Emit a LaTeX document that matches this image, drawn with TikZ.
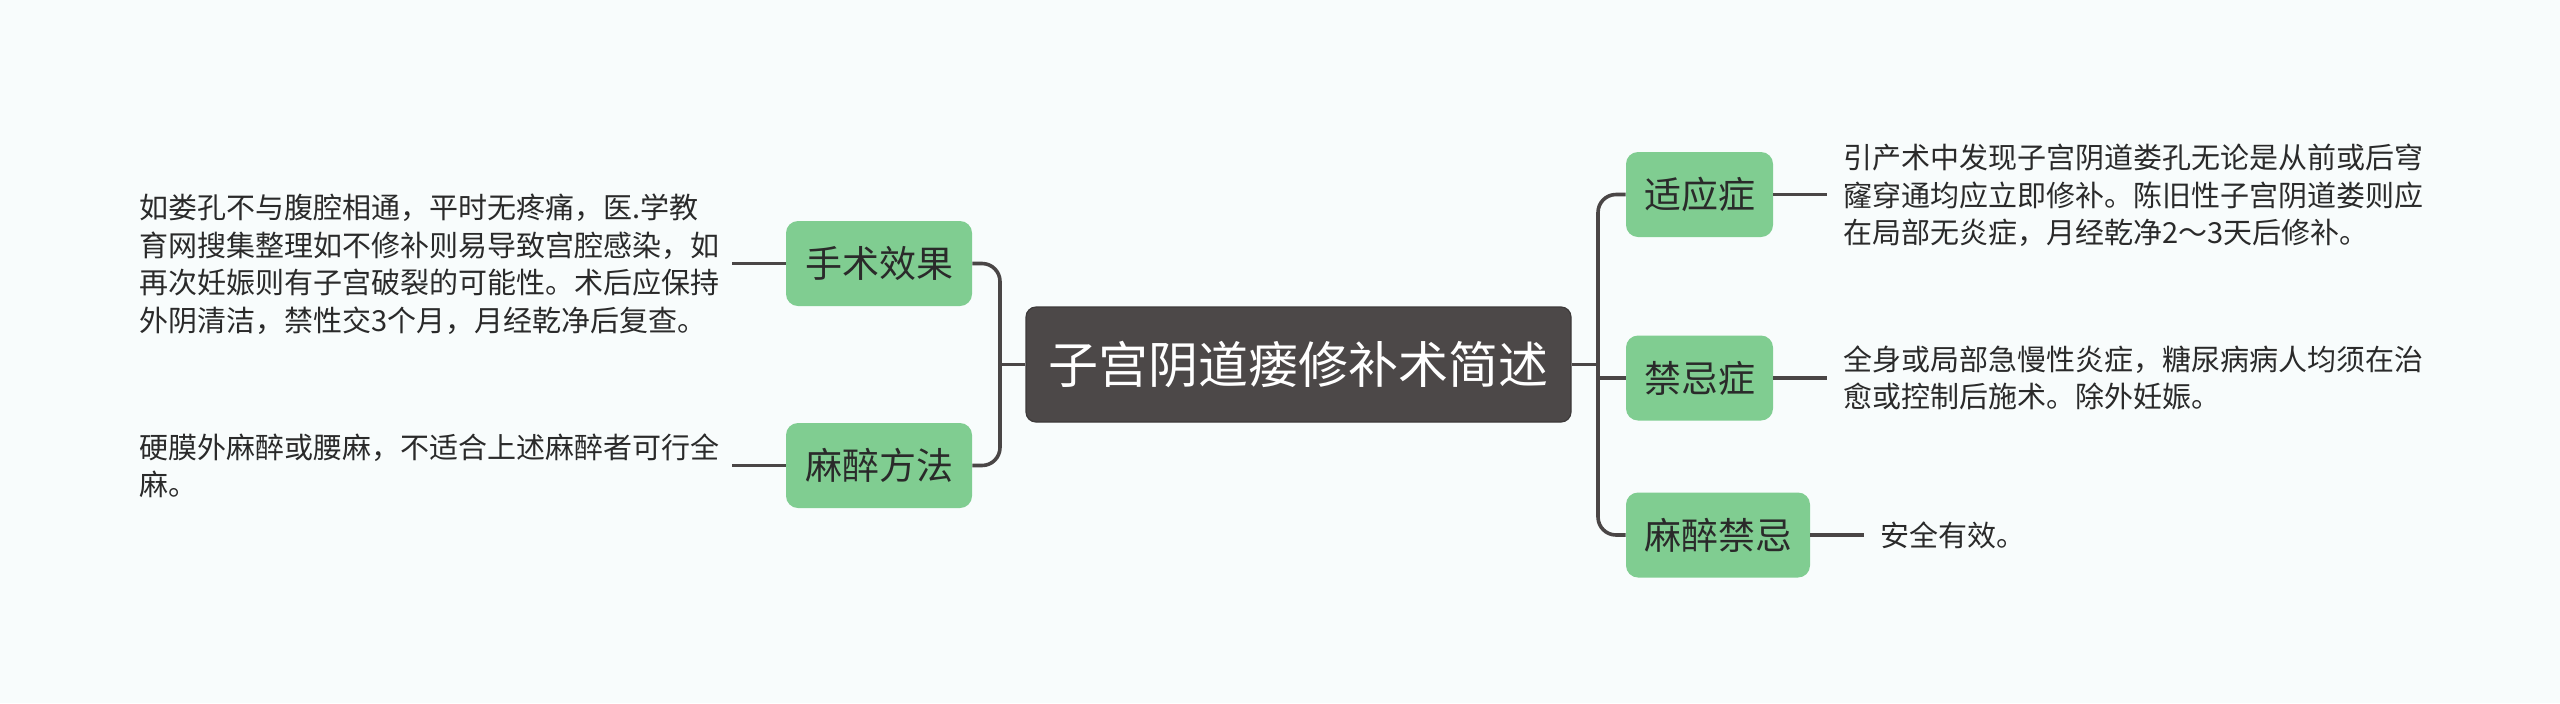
\documentclass[tikz,border=0pt]{standalone}
\usepackage{fontspec}
\newfontfamily\cjk{Noto Sans CJK SC}
\definecolor{bg}{HTML}{F8FCFC}
\definecolor{leaf}{HTML}{80CD91}
\definecolor{rootc}{HTML}{4C4848}
\definecolor{linec}{HTML}{4A4646}
\definecolor{txt}{HTML}{2A2A2A}
\tikzset{
  rootbox/.style={draw=rootc!80!black, line width=0.6pt, fill=rootc, rounded corners=5pt, text=white,
    font=\cjk\fontsize{25}{29}\selectfont, minimum width=272.5pt, minimum height=57.5pt, inner sep=0pt},
  leafbox/.style={fill=leaf, rounded corners=6pt, text=txt, draw=none,
    font=\cjk\fontsize{18.5}{22}\selectfont, minimum height=42.5pt, inner sep=0pt},
  desc/.style={anchor=west, align=left, inner sep=0pt, text=txt,
    font=\cjk\fontsize{14.5}{18.75}\selectfont},
  conn/.style={draw=linec, line width=1.8pt},
}
\begin{document}
\begin{tikzpicture}[x=0.5pt, y=-0.5pt]
\fill[bg] (0,0) rectangle (2560,703);
\path[use as bounding box] (0,0) rectangle (2560,703);

\node[rootbox] (root) at (1298.5,364.5) {子宫阴道瘘修补术简述};

\node[leafbox, minimum width=93pt] (ss) at (879,263.5) {手术效果};
\node[leafbox, minimum width=93pt] (mz) at (879,465.5) {麻醉方法};
\node[leafbox, minimum width=73.5pt] (sy) at (1699.5,194.5) {适应症};
\node[leafbox, minimum width=73.5pt] (jj) at (1699.5,378) {禁忌症};
\node[leafbox, minimum width=92pt] (mj) at (1718,535) {麻醉禁忌};

\node[desc] (tss) at (139,264) {如娄孔不与腹腔相通，平时无疼痛，医.学教\\育网搜集整理如不修补则易导致宫腔感染，如\\再次妊娠则有子宫破裂的可能性。术后应保持\\外阴清洁，禁性交3个月，月经乾净后复查。};
\node[desc] (tmz) at (139,466) {硬膜外麻醉或腰麻，不适合上述麻醉者可行全\\麻。};
\node[desc] (tsy) at (1843,195.5) {引产术中发现子宫阴道娄孔无论是从前或后穹\\窿穿通均应立即修补。陈旧性子宫阴道娄则应\\在局部无炎症，月经乾净2～3天后修补。};
\node[desc] (tjj) at (1843,378) {全身或局部急慢性炎症，糖尿病病人均须在治\\愈或控制后施术。除外妊娠。};
\node[desc] (tmj) at (1880,535) {安全有效。};

\coordinate (lb) at (1000,364.5);
\coordinate (rb) at (1598,364.5);
\coordinate (ess) at (732,263.5);
\coordinate (emz) at (732,465.5);
\coordinate (esy) at (1827,194.5);
\coordinate (ejj) at (1827,378);
\coordinate (emj) at (1864,535);

\draw[conn] (root.west) -- (lb);
\draw[conn, rounded corners=9pt] (ss.east) -| (lb) |- (mz.east);
\draw[conn] (root.east) -- (rb);
\draw[conn, rounded corners=9pt] (sy.west) -| (rb) |- (mj.west);
\draw[conn] (jj.west) -- (jj.west -| rb);

\draw[conn] (ss.west) -- (ess);
\draw[conn] (mz.west) -- (emz);
\draw[conn] (sy.east) -- (esy);
\draw[conn] (jj.east) -- (ejj);
\draw[conn] (mj.east) -- (emj);
\end{tikzpicture}
\end{document}
